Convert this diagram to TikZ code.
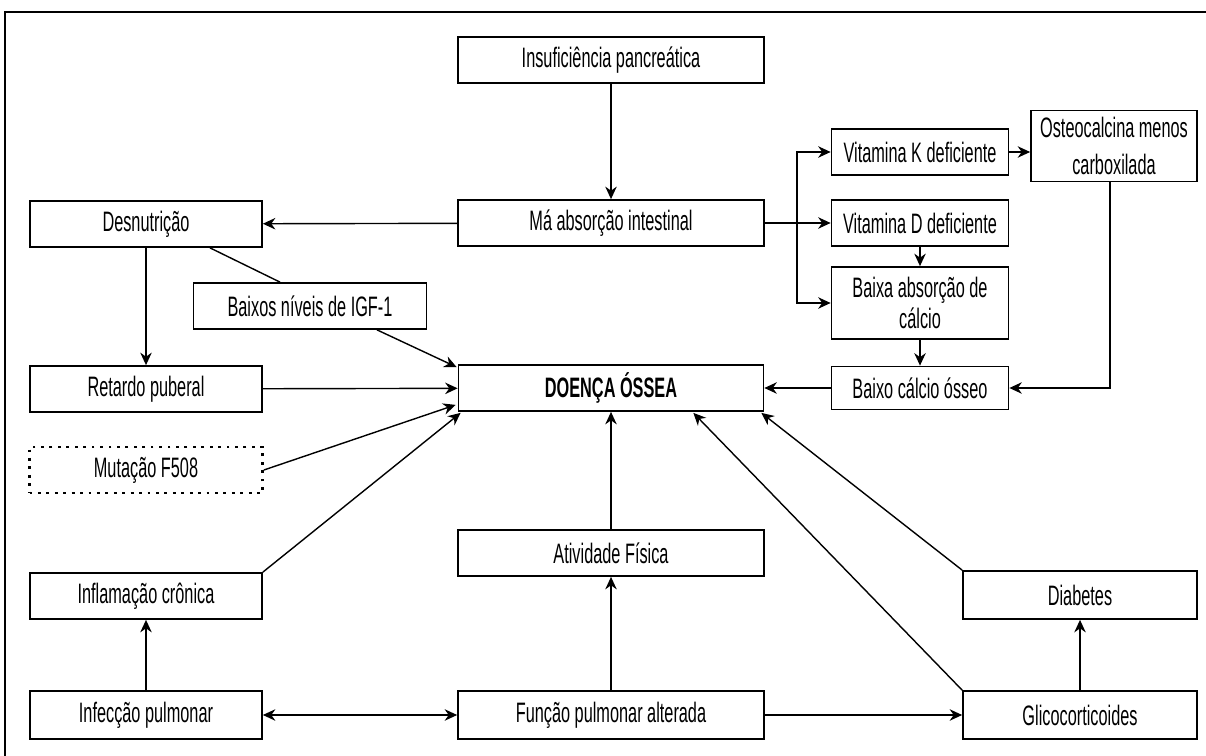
\documentclass[tikz,border=0pt]{standalone}
\usepackage{fontspec}
\setmainfont{Liberation Sans}[FakeStretch=0.58]
\usetikzlibrary{
    arrows.meta,
    calc,
    positioning
}

\begin{document}
\begin{tikzpicture}[x=0.02cm, y=-0.02cm,
    >={Stealth[length=2.5mm,width=2.3mm]},
    every path/.style={line width=0.8pt},
    box/.style={draw, line width=1pt, minimum height=0.92cm, inner sep=1pt,
        align=center, font=\fontsize{16}{18}\selectfont}]
    \useasboundingbox (0,0) rectangle (1206,756);
    \draw (1206,12) -- (5,12) -- (5,756);

    \node[box, minimum width=6.12cm] (insuf) at (611,60) {Insuficiência pancreática};
    \node[box, minimum width=6.12cm] (mabs) at (611,223) {Má absorção intestinal};
    \node[box, minimum width=4.64cm] (desn) at (146,224) {Desnutrição};
    \node[box, minimum width=4.66cm] (igf) at (310,306) {Baixos níveis de IGF-1};
    \node[box, minimum width=4.64cm] (ret) at (146,389) {Retardo puberal};
    \node[box, line width=1.6pt, dash pattern=on 1.6pt off 3.2pt,
        minimum width=4.66cm] (mut) at (146,470) {Mutação F508};
    \node[box, minimum width=6.1cm, font=\fontsize{16}{18}\selectfont\bfseries] (doenca) at (611,388) {DOENÇA ÓSSEA};

    \node[box, minimum width=3.54cm] (vitk) at (920,152) {Vitamina K deficiente};
    \node[box, minimum width=3.32cm, minimum height=1.42cm,
        font=\fontsize{16}{21}\selectfont] (osteo) at (1114,146) {Osteocalcina menos\\carboxilada};
    \node[box, minimum width=3.54cm] (vitd) at (920,223) {Vitamina D deficiente};
    \node[box, minimum width=3.54cm, minimum height=1.44cm] (babs) at (920,303) {Baixa absorção de\\cálcio};
    \node[box, minimum width=3.54cm, minimum height=0.86cm] (bcal) at (920,388) {Baixo cálcio ósseo};

    \node[box, minimum width=6.12cm] (ativ) at (611,553) {Atividade Física};
    \node[box, minimum width=4.64cm] (infl) at (146,596) {Inflamação crônica};
    \node[box, minimum width=4.68cm, minimum height=0.96cm] (diab) at (1080,595) {Diabetes};
    \node[box, minimum width=4.64cm, minimum height=0.96cm] (infec) at (146,715) {Infecção pulmonar};
    \node[box, minimum width=6.12cm, minimum height=0.96cm] (func) at (611,715) {Função pulmonar alterada};
    \node[box, minimum width=4.68cm, minimum height=0.96cm] (glico) at (1080,715) {Glicocorticoides};

    \coordinate (br) at (797,223);

    \draw
    (insuf) edge[->] (mabs)
    (mabs) edge[->] (desn)
    (mabs) edge[->] (vitd)
    (vitk) edge[->] (osteo.west |- vitk)
    (vitd) edge[->] (babs)
    (babs) edge[->] (bcal)
    (bcal) edge[->] (doenca)
    (desn) edge[->] (ret)
    (ret) edge[->] (doenca)
    (ativ) edge[->] (doenca)
    (infec) edge[->] (infl)
    (infec) edge[<->] (func)
    (func) edge[->] (ativ)
    (func) edge[->] (glico)
    (glico) edge[->] (diab);

    \draw[->] (br) |- (vitk.west);
    \draw[->] (br) |- (babs.west);
    \draw[->] ($(osteo.south)+(-4,0)$) |- (bcal.east);

    \draw ($(desn.south)+(64,0)$) -- ($(igf.north)+(-30,0)$);
    \draw[->] ($(igf.south)+(67,0)$) -- ($(doenca.north west)+(-1,3)$);
    \draw[->] (mut.east) -- ($(doenca.south west)+(-2,-7)$);
    \draw[->] (infl.north east) -- ($(doenca.south west)+(3,1)$);
    \draw[->] (glico.north west) -- ($(doenca.south east)+(-71,1)$);
    \draw[->] (diab.north west) -- ($(doenca.south east)+(-3,1)$);
\end{tikzpicture}
\end{document}
